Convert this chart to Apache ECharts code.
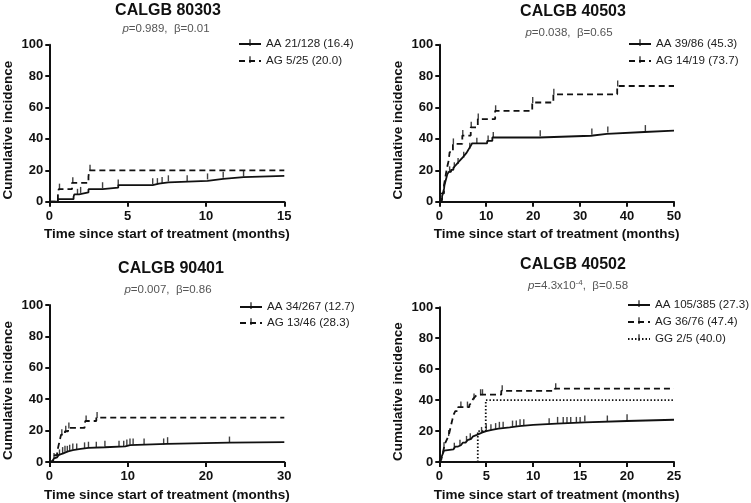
<!DOCTYPE html>
<html><head><meta charset="utf-8">
<script src="https://cdn.jsdelivr.net/npm/echarts@6/dist/echarts.min.js"></script>
<style>html,body{margin:0;padding:0;background:#fff}#c{width:751px;height:503px}</style>
</head><body><div id="c"></div>
<script>
// ---------- data ----------
const titles = ['CALGB 80303', 'CALGB 40503', 'CALGB 90401', 'CALGB 40502'];
const subtitles = ['{i|p}=0.989,  β=0.01', '{i|p}=0.038,  β=0.65', '{i|p}=0.007,  β=0.86', '{i|p}=4.3x10{sup|-4},  β=0.58'];
const xMaxes = [15, 50, 30, 25];
const xIntervals = [5, 10, 10, 5];
const yTicks = [0, 20, 40, 60, 80, 100];

// CALGB 80303
const aa80303Name = 'AA 21/128 (16.4)';
const aa80303 = [[0,0],[0.55,1.6],[1.55,3.2],[1.6,4.7],[1.9,5.9],[2.5,8.0],[3.4,8.9],[4.4,10.6],[6.6,11.5],[7.0,12.3],[7.6,13.3],[10.1,14.5],[11.1,15.6],[12.4,16.4],[15,16.4]];
const aa80303Cens = [1.8, 2.0, 3.4, 4.4, 6.6, 6.9, 7.2, 7.6, 8.8, 10.1, 11.1, 12.4];
const ag80303Name = 'AG 5/25 (20.0)';
const ag80303 = [[0,0],[0.55,4],[0.6,8],[1.45,12],[2.5,16],[2.55,20],[15,20]];
const ag80303Cens = [0.65, 1.5, 2.6];

// CALGB 40503
const aa40503Name = 'AA 39/86 (45.3)';
const aa40503 = [[0,0],[0.4,1.2],[0.6,3.5],[0.8,5.8],[1.0,8.1],[1.1,10.5],[1.3,12.8],[1.5,15.1],[1.7,17.4],[2.0,19.0],[2.5,20.3],[3.0,21.6],[3.4,22.9],[3.8,24.3],[4.2,25.6],[4.6,27.0],[5.0,28.3],[5.4,29.7],[5.8,31.1],[6.1,32.6],[6.4,34.1],[6.7,35.6],[7.0,37.2],[10.2,38.7],[11.3,40.9],[21.3,42.0],[32.3,43.2],[35.7,44.4],[43.7,45.3],[50,45.3]];
const aa40503Cens = [2.2, 3.2, 4.0, 5.2, 6.5, 8.0, 10.4, 11.5, 21.5, 32.5, 35.9, 43.9];
const ag40503Name = 'AG 14/19 (73.7)';
const ag40503 = [[0,0],[0.5,5.3],[1.0,10.5],[1.3,15.8],[1.6,21.1],[2.0,26.3],[2.2,31.6],[2.9,36.8],[4.9,42.1],[6.7,47.4],[8.2,52.6],[11.9,57.9],[19.8,63.2],[24.3,68.4],[37.9,73.7],[50,73.7]];
const ag40503Cens = [3.0, 5.0, 6.8, 8.3, 12.0, 19.9, 24.4, 38.0];

// CALGB 90401
const aa90401Name = 'AA 34/267 (12.7)';
const aa90401 = [[0,0],[0.2,0.8],[0.4,1.5],[0.6,2.3],[0.8,3.0],[1.0,3.8],[1.2,4.5],[1.4,5.3],[1.7,6.0],[2.0,6.8],[2.4,7.5],[3.0,8.3],[4.0,9.0],[5.0,9.4],[7.1,10.0],[9.7,10.8],[10.3,11.5],[15.0,12.3],[23.0,12.7],[30,12.7]];
const aa90401Cens = [1.3, 1.7, 2.0, 2.3, 2.6, 3.0, 3.5, 4.5, 5.0, 6.0, 7.1, 8.9, 9.5, 9.9, 10.3, 10.7, 12.1, 14.6, 15.1, 23.0];
const ag90401Name = 'AG 13/46 (28.3)';
const ag90401 = [[0,0],[0.5,2.2],[0.7,4.3],[1.0,6.5],[1.1,8.7],[1.2,10.9],[1.3,13.0],[1.4,15.2],[1.5,17.4],[2.0,19.6],[2.4,21.7],[4.5,23.9],[4.6,26.1],[6.0,28.3],[30,28.3]];
const ag90401Cens = [0.6, 1.6, 2.1, 2.5, 4.7, 6.1];

// CALGB 40502
const aa40502Name = 'AA 105/385 (27.3)';
const aa40502 = [[0,0],[0.1,1.0],[0.2,2.6],[0.3,4.2],[0.4,5.7],[0.5,7.3],[0.6,8.1],[1.5,8.9],[1.7,10.0],[2.0,10.8],[2.3,11.6],[2.5,12.5],[2.8,13.3],[3.0,14.1],[3.2,15.0],[3.4,15.8],[3.6,16.6],[3.8,17.5],[4.0,18.3],[4.3,19.1],[4.6,20.0],[5.0,20.8],[5.6,21.6],[6.3,22.4],[7.5,23.2],[8.5,24.0],[10.0,24.8],[12.5,25.6],[15.5,26.5],[20.0,27.3],[25,27.3]];
const aa40502Cens = [1.6, 2.2, 2.9, 3.3, 4.5, 5.0, 5.5, 6.0, 6.4, 6.8, 7.8, 8.2, 8.6, 9.0, 11.7, 12.6, 13.2, 13.6, 14.0, 14.6, 15.0, 15.5, 17.9, 20.0];
const ag40502Name = 'AG 36/76 (47.4)';
const ag40502 = [[0,0],[0.2,1.3],[0.3,3.9],[0.4,6.6],[0.5,9.2],[0.6,11.8],[0.8,14.5],[1.0,17.1],[1.1,19.7],[1.2,22.4],[1.3,25.0],[1.4,27.6],[1.5,30.3],[1.7,32.9],[2.0,35.5],[3.2,36.8],[3.4,38.2],[3.5,39.5],[3.6,40.8],[3.8,42.1],[4.0,43.5],[6.6,46.0],[12.3,47.4],[25,47.4]];
const ag40502Cens = [0.5, 1.0, 2.3, 3.0, 3.7, 4.4, 4.6, 6.7, 12.4];
const gg40502Name = 'GG 2/5 (40.0)';
const gg40502 = [[0,0],[4.1,20],[4.95,40],[25,40]];
const gg40502Cens = [];

// ---------- layout / styles ----------
const FONT = 'Liberation Sans';
const INK = '#111';
const layout = [
  {grid:{left:49.3, top:44.7, width:235, height:157}, tX:168, tY:2.5, sX:166, sY:23, lX:238, lY:38, lGap:5},
  {grid:{left:439.3, top:44.7, width:234.7, height:157}, tX:573, tY:3.5, sX:569, sY:27, lX:628, lY:38, lGap:5},
  {grid:{left:49.3, top:305, width:235, height:157.3}, tX:171, tY:261, sX:168, sY:284, lX:239, lY:301, lGap:4},
  {grid:{left:439.3, top:307.3, width:234.7, height:157}, tX:573, tY:256.5, sX:578, sY:279, lX:627, lY:299, lGap:5}
];
const panelSeries = [
  [{name:aa80303Name, data:aa80303, cens:aa80303Cens, dash:'solid'}, {name:ag80303Name, data:ag80303, cens:ag80303Cens, dash:[6,4]}],
  [{name:aa40503Name, data:aa40503, cens:aa40503Cens, dash:'solid'}, {name:ag40503Name, data:ag40503, cens:ag40503Cens, dash:[6,4]}],
  [{name:aa90401Name, data:aa90401, cens:aa90401Cens, dash:'solid'}, {name:ag90401Name, data:ag90401, cens:ag90401Cens, dash:[6,4]}],
  [{name:aa40502Name, data:aa40502, cens:aa40502Cens, dash:'solid'}, {name:ag40502Name, data:ag40502, cens:ag40502Cens, dash:[6,4]}, {name:gg40502Name, data:gg40502, cens:gg40502Cens, dash:[1.5,2]}]
];

function yAt(curve, t) { let y = 0; for (const p of curve) { if (p[0] <= t) y = p[1]; } return y; }
const tickSymbol = 'path://M0,14L10,14L10,14.01L0,14.01Z M4.4,0L5.6,0L5.6,10L4.4,10Z';

const option = {
  animation: false,
  backgroundColor: '#fff',
  title: [], grid: [], xAxis: [], yAxis: [], legend: [], series: []
};

layout.forEach((L, i) => {
  option.title.push({text: titles[i], left: L.tX, top: L.tY, textAlign: 'center', padding: 0,
    textStyle: {fontFamily: FONT, fontSize: 16, fontWeight: 'bold', color: INK}});
  option.title.push({text: subtitles[i], left: L.sX, top: L.sY, textAlign: 'center', padding: 0,
    textStyle: {fontFamily: FONT, fontSize: 11.5, fontWeight: 'normal', color: '#555',
      rich: {i: {fontFamily: FONT, fontSize: 11.5, fontStyle: 'italic', color: '#555'},
             sup: {fontFamily: FONT, fontSize: 8, color: '#555', padding: [0,0,6,0]}}}});
  option.grid.push(Object.assign({containLabel: false}, L.grid));
  option.xAxis.push({type: 'value', gridIndex: i, min: 0, max: xMaxes[i], interval: xIntervals[i],
    splitLine: {show: false},
    axisLine: {show: true, onZero: false, lineStyle: {color: INK, width: 2}},
    axisTick: {show: true, length: 5, lineStyle: {color: INK, width: 2}},
    axisLabel: {margin: 8, fontFamily: FONT, fontSize: 13, fontWeight: 'bold', color: INK},
    name: 'Time since start of treatment (months)', nameLocation: 'middle', nameGap: 26,
    nameTextStyle: {fontFamily: FONT, fontSize: 13.5, fontWeight: 'bold', color: INK}});
  option.yAxis.push({type: 'value', gridIndex: i, min: yTicks[0], max: yTicks[yTicks.length-1], interval: yTicks[1]-yTicks[0],
    splitLine: {show: false},
    axisLine: {show: true, lineStyle: {color: INK, width: 2}},
    axisTick: {show: true, length: 4, lineStyle: {color: INK, width: 2}},
    axisLabel: {margin: 6, fontFamily: FONT, fontSize: 13, fontWeight: 'bold', color: INK},
    name: 'Cumulative incidence', nameLocation: 'middle', nameGap: 34,
    nameTextStyle: {fontFamily: FONT, fontSize: 13.5, fontWeight: 'bold', color: INK, padding: [0,14,0,0]}});
  option.legend.push({orient: 'vertical', left: L.lX, top: L.lY, padding: 0, itemWidth: 22, itemHeight: 12, itemGap: L.lGap,
    selectedMode: false, data: panelSeries[i].map(s => s.name),
    textStyle: {fontFamily: FONT, fontSize: 11.6, color: '#222', lineHeight: 12}});
  panelSeries[i].forEach((s, j) => {
    option.series.push({type: 'line', name: s.name, xAxisIndex: i, yAxisIndex: i, data: s.data, step: 'end',
      symbol: tickSymbol, symbolSize: 8, showSymbol: false, z: 3 + j,
      lineStyle: {color: INK, width: 1.8, type: s.dash},
      itemStyle: {color: INK, borderWidth: 0},
      emphasis: {disabled: true}, silent: true});
    option.series.push({type: 'scatter', name: s.name + ' censored', xAxisIndex: i, yAxisIndex: i,
      data: s.cens.map(t => [t, yAt(s.data, t)]),
      symbol: 'rect', symbolSize: [1.4, 6], symbolOffset: [0, -2.5],
      itemStyle: {color: INK}, silent: true, z: 5});
  });
});

const chart = echarts.init(document.getElementById('c'), null, {renderer: 'canvas'});
chart.setOption(option);
</script></body></html>
